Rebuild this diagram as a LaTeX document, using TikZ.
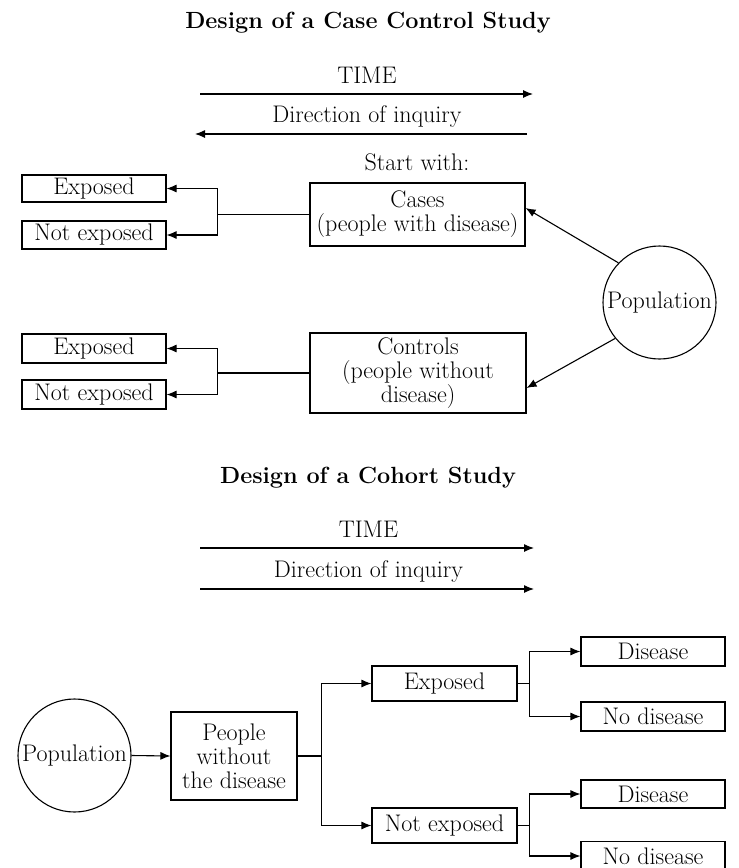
\documentclass[tikz,border=0pt]{standalone}
\usepackage{fontspec}
\usetikzlibrary{arrows.meta}
\begin{document}
\begin{tikzpicture}[x=1pt,y=1pt,line width=1.1pt]
	\tikzstyle{every node}+=[inner sep=0pt, font=\fontsize{24}{24}\selectfont, align=center]
	\tikzstyle{box}=[draw=black]
	\tikzstyle{heading}=[font=\fontsize{23.4}{27}\selectfont\bfseries, anchor=base]
	\tikzstyle{arr}=[-{Latex[length=10pt,width=8pt]}]
	\useasboundingbox (0,0) rectangle (739,-868);
	\node [heading] (cctitle) at (368,-28.3) {Design of a Case Control Study};
	\node [anchor=base] (cctime) at (367,-83.3) {TIME};
	\coordinate (cct0) at (200,-94);
	\coordinate (cct1) at (533,-94);
	\draw [black, arr] (cct0) -- (cct1);
	\node [anchor=base] (ccdir) at (367,-122.7) {Direction of inquiry};
	\coordinate (ccd0) at (195,-134);
	\coordinate (ccd1) at (527,-134);
	\draw [black, arr] (ccd1) -- (ccd0);
	\node [anchor=base] (start) at (417,-170) {Start with:};
	\node [box, minimum width=215pt, minimum height=63pt] (cases) at (417.5,-214.5) {Cases\\(people with disease)};
	\node [box, minimum width=216pt, minimum height=80pt] (controls) at (418,-373) {Controls\\(people without\\disease)};
	\node [box, minimum width=144pt, minimum height=27pt] (ccexp1) at (94,-188.5) {Exposed};
	\node [box, minimum width=144pt, minimum height=28pt] (ccnexp1) at (94,-235) {Not exposed};
	\node [box, minimum width=144pt, minimum height=29pt] (ccexp2) at (94,-348.5) {Exposed};
	\node [box, minimum width=144pt, minimum height=29pt] (ccnexp2) at (94,-394.5) {Not exposed};
	\node [box, circle, minimum size=113pt] (ccpop) at (659.5,-302.5) {Population};
	\draw [black] (cases.west) -- ++(-92,0) coordinate (ccj1);
	\draw [black, arr] (ccj1) |- (ccexp1.east);
	\draw [black, arr] (ccj1) |- (ccnexp1.east);
	\draw [black] (controls.west) -- ++(-92,0) coordinate (ccj2);
	\draw [black, arr] (ccj2) |- (ccexp2.east);
	\draw [black, arr] (ccj2) |- (ccnexp2.east);
	\draw [black, arr] (ccpop.136) -- ([yshift=6.5pt]cases.east);
	\draw [black, arr] (ccpop.219) -- ([yshift=-15pt]controls.east);
	\node [heading] (ctitle) at (368,-483) {Design of a Cohort Study};
	\node [anchor=base] (ctime) at (368.5,-537.7) {TIME};
	\coordinate (ct0) at (200,-548);
	\coordinate (ct1) at (534,-548);
	\draw [black, arr] (ct0) -- (ct1);
	\node [anchor=base] (cdir) at (368.5,-577.7) {Direction of inquiry};
	\coordinate (cd0) at (200,-589);
	\coordinate (cd1) at (534,-589);
	\draw [black, arr] (cd0) -- (cd1);
	\node [box, circle, minimum size=113pt] (cpop) at (74.5,-755.5) {Population};
	\node [box, minimum width=126pt, minimum height=88pt] (people) at (234,-756) {People\\without\\the disease};
	\node [box, minimum width=145pt, minimum height=35pt] (cexp) at (444.5,-683.5) {Exposed};
	\node [box, minimum width=145pt, minimum height=35pt] (cnexp) at (444.5,-825.5) {Not exposed};
	\node [box, minimum width=144pt, minimum height=29pt] (cdis1) at (653,-651.5) {Disease};
	\node [box, minimum width=144pt, minimum height=29pt] (cnodis1) at (653,-716.5) {No disease};
	\node [box, minimum width=144pt, minimum height=28pt] (cdis2) at (653,-794) {Disease};
	\node [box, minimum width=144pt, minimum height=29pt] (cnodis2) at (653,-856) {No disease};
	\draw [black, arr] (cpop.east) -- (people.west);
	\draw [black] (people.east) -- ++(24,0) coordinate (cj1);
	\draw [black, arr] (cj1) |- (cexp.west);
	\draw [black, arr] (cj1) |- (cnexp.west);
	\draw [black] (cexp.east) -- ++(12,0) coordinate (cj2);
	\draw [black, arr] (cj2) |- (cdis1.west);
	\draw [black, arr] (cj2) |- (cnodis1.west);
	\draw [black] (cnexp.east) -- ++(12,0) coordinate (cj3);
	\draw [black, arr] (cj3) |- (cdis2.west);
	\draw [black, arr] (cj3) |- (cnodis2.west);
\end{tikzpicture}
\end{document}
